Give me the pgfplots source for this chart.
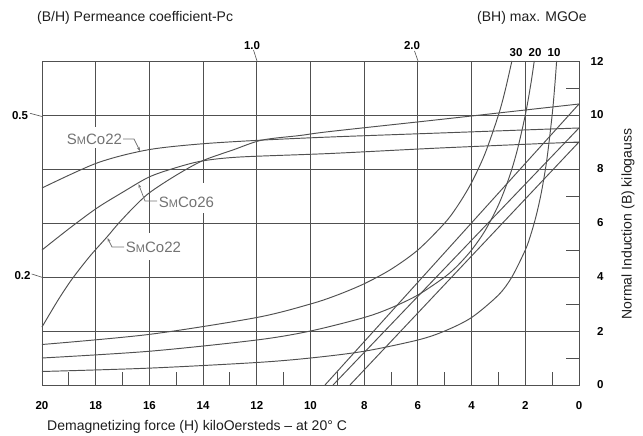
\documentclass[border=0pt]{standalone}
\usepackage{fontspec}
\setmainfont{Liberation Sans}
\usepackage{pgfplots}
\pgfplotsset{compat=1.18}
\usetikzlibrary{arrows.meta}

\definecolor{ln}{RGB}{80,80,80}
\definecolor{lbl}{RGB}{115,115,115}
\definecolor{txt}{RGB}{30,30,30}

\newcommand\tickfont{\fontsize{11.5bp}{13bp}\selectfont\bfseries}
\newcommand\smfont{\fontsize{15bp}{17bp}\selectfont}
\newcommand\sm{S{\fontsize{11bp}{12bp}\selectfont M}Co}

\begin{document}
\begin{tikzpicture}
% pixel frame of the reference (origin top left, y down)
\begin{scope}[x=1bp, y=-1bp, shift={(-42bp,385bp)}]
\path[use as bounding box] (0,0) rectangle (643,436);
\end{scope}

\begin{axis}[
  at={(0,0)}, anchor=south west,
  scale only axis, width=537bp, height=324bp,
  x dir=reverse,
  xmin=0, xmax=20, ymin=0, ymax=12,
  xtick={0,2,...,20}, ytick={0,2,...,12},
  minor xtick={1,3,...,19}, minor ytick={1,3,...,11},
  xtick pos=bottom, ytick pos=right,
  tick align=inside,
  major tick length=0pt, minor tick length=13bp,
  grid=major,
  grid style={ln, line width=0.95bp},
  axis line style={ln, line width=0.95bp},
  minor tick style={ln, line width=0.95bp},
  tick label style={font=\tickfont, text=black},
  /pgf/number format/assume math mode=true,
  xticklabel style={yshift=-13bp},
  yticklabel style={anchor=east, xshift=28bp},
  every axis plot/.append style={ln, line width=0.95bp},
  clip=false,
]
% intrinsic curves
\addplot[smooth] coordinates {
(20.00,7.296) (17.95,8.222) (16.09,8.704) (14.12,8.926) (11.81,9.07)
(9.27,9.185) (5.18,9.333) (0,9.519)};
\addplot[smooth] coordinates {
(20.00,2.148) (19.40,3.148) (18.88,3.926) (18.21,4.778) (17.58,5.481)
(17.17,5.963) (16.61,6.556) (16.01,7.111) (15.05,7.741) (14.04,8.296)
(12.89,8.704) (11.81,9.07) (10.39,9.241) (9.27,9.389) (5.18,9.833) (0,10.407)};
\addplot[smooth] coordinates {
(20.00,5.000) (18.96,5.815) (17.95,6.556) (16.98,7.148) (16.01,7.704)
(15.05,8.037) (14.04,8.296) (12.63,8.444) (9.27,8.574) (5.18,8.778) (0,9.000)};
% normal curves
\addplot[sharp plot] coordinates {(9.46,0) (0,10.407)};
\addplot[sharp plot] coordinates {(9.16,0) (0,9.519)};
\addplot[sharp plot] coordinates {(8.53,0) (0,9.000)};
% (BH) max lines: 10, 20, 30 MGOe
\addplot[smooth] coordinates {
(20,0.5) (16,0.625) (12,0.8333) (10,1) (8,1.25) (6,1.667) (5,2) (4,2.5)
(3,3.333) (2.5,4) (2,5) (1.8,5.556) (1.6,6.25) (1.4,7.143) (1.2,8.333)
(1.0,10) (0.9,11.11) (0.8333,12)};
\addplot[smooth] coordinates {
(20,1) (16,1.25) (12,1.667) (10,2) (8,2.5) (7,2.857) (6,3.333) (5,4)
(4.5,4.444) (4,5) (3.5,5.714) (3,6.667) (2.6,7.692) (2.3,8.696) (2,10)
(1.8,11.11) (1.6667,12)};
\addplot[smooth] coordinates {
(20,1.5) (16,1.875) (12,2.5) (10,3) (9,3.333) (8,3.75) (7,4.286) (6,5)
(5,6) (4.5,6.667) (4,7.5) (3.5,8.571) (3,10) (2.75,10.91) (2.5,12)};
\end{axis}

\begin{scope}[x=1bp, y=-1bp, shift={(-42bp,385bp)}]
% gaps in the grid behind the labels
\fill[white] (93,127) rectangle (99,148);
\fill[white] (200,183) rectangle (206,213);
\fill[white] (146,233) rectangle (152,260);
% curve labels
\node[font=\smfont, text=lbl, fill=white, inner sep=1bp] at (94.5,139.5) {\sm22};
\node[font=\smfont, text=lbl, fill=white, inner sep=1bp] at (186.5,202) {\sm26};
\node[font=\smfont, text=lbl, fill=white, inner sep=1bp] at (153.5,247.5) {\sm22};
\draw[lbl, line width=0.7bp, -{Stealth[length=4bp,width=3bp]}] (123,139) -- (134,139) -- (140,151);
\draw[lbl, line width=0.7bp, -{Stealth[length=4bp,width=3bp]}] (157,201) -- (145,201) -- (138.5,184);
\draw[lbl, line width=0.7bp, -{Stealth[length=4bp,width=3bp]}] (124,247) -- (112,247) -- (107.5,238);
% permeance coefficient marks
\node[font=\tickfont, inner sep=0] at (252,45.5) {1.0};
\node[font=\tickfont, inner sep=0] at (412,45.5) {2.0};
\draw[ln, line width=0.6bp] (253.5,50) -- (257,61);
\draw[ln, line width=0.6bp] (414.5,51) -- (418,61);
\node[font=\tickfont, inner sep=0] at (20,115.5) {0.5};
\node[font=\tickfont, inner sep=0] at (22.5,276) {0.2};
\draw[ln, line width=0.6bp] (30,113.3) -- (42,116.5);
\draw[ln, line width=0.6bp] (31.7,274) -- (42,277.3);
% (BH) max marks
\node[font=\tickfont, inner sep=0] at (516,53) {30};
\node[font=\tickfont, inner sep=0] at (535,53) {20};
\node[font=\tickfont, inner sep=0] at (554,53) {10};
% titles
\node[font=\fontsize{14bp}{16bp}\selectfont, text=txt, anchor=base west, inner sep=0] at (37,22) {(B/H) Permeance coefficient-Pc};
\node[font=\fontsize{14bp}{16bp}\selectfont, text=txt, anchor=base west, inner sep=0] at (477,22) {(BH) max. MGOe};
\node[font=\fontsize{14bp}{16bp}\selectfont, text=txt, anchor=base west, inner sep=0] at (47,431) {Demagnetizing force (H) kiloOersteds – at 20° C};
\node[font=\fontsize{14bp}{16bp}\selectfont, text=txt, rotate=90, inner sep=0] at (628,224) {Normal Induction (B) kilogauss};
\end{scope}
\end{tikzpicture}
\end{document}
